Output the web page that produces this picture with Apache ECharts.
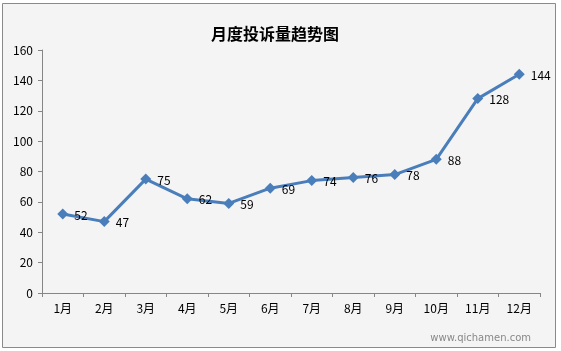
<!DOCTYPE html>
<html>
<head>
	<meta charset="UTF-8">
	<title>月度投诉量趋势图</title>
	<style>
		html, body {margin: 0; padding: 0; background: #fff;}
		#chart {width: 561px; height: 351px;}
	</style>
	<script src="https://cdn.jsdelivr.net/npm/echarts@6/dist/echarts.min.js"></script>
</head>
<body>
<div id="chart"></div>
<script type="text/javascript">
    // 月份
    var months = ['1月', '2月', '3月', '4月', '5月', '6月', '7月', '8月', '9月', '10月', '11月', '12月'];
    // 投诉量
    var counts = [52, 47, 75, 62, 59, 69, 74, 76, 78, 88, 128, 144];

    var chart = echarts.init(document.getElementById('chart'));
    chart.setOption({
        backgroundColor: '#fff',
        textStyle: {fontFamily: 'Noto Sans CJK SC, DejaVu Sans, sans-serif'},
        graphic: [
            {
                type: 'rect',
                z: -10,
                shape: {x: 2.5, y: 3.5, width: 553, height: 344},
                style: {fill: '#f4f4f4', stroke: '#8a8a8a', lineWidth: 1}
            },
            {
                type: 'text',
                right: 30,
                bottom: 8,
                style: {text: 'www.qichamen.com', fill: '#888', fontSize: 10, fontFamily: 'DejaVu Sans'}
            }
        ],
        title: {
            text: '月度投诉量趋势图',
            left: 206,
            top: 21,
            textStyle: {fontSize: 16, fontWeight: 'bold', color: '#000'}
        },
        grid: {left: 42, right: 21, top: 50, bottom: 58},
        xAxis: {
            type: 'category',
            data: months,
            boundaryGap: true,
            axisLine: {lineStyle: {color: '#868686'}},
            axisTick: {show: true, length: 4, inside: false, lineStyle: {color: '#868686'}},
            axisLabel: {color: '#000', fontSize: 12, margin: 9}
        },
        yAxis: {
            type: 'value',
            min: 0,
            max: 160,
            interval: 20,
            axisLine: {show: true, lineStyle: {color: '#868686'}},
            axisTick: {show: true, length: 4, lineStyle: {color: '#868686'}},
            axisLabel: {color: '#000', fontSize: 12, margin: 9},
            splitLine: {show: false}
        },
        series: [
            {
                type: 'line',
                data: counts,
                symbol: 'diamond',
                symbolSize: 11,
                lineStyle: {color: '#4a7ebb', width: 3},
                itemStyle: {color: '#4a7ebb'},
                label: {
                    show: true,
                    position: 'right',
                    distance: 6,
                    offset: [0, 1],
                    color: '#000',
                    fontSize: 12
                }
            }
        ]
    });
</script>
</body>
</html>
